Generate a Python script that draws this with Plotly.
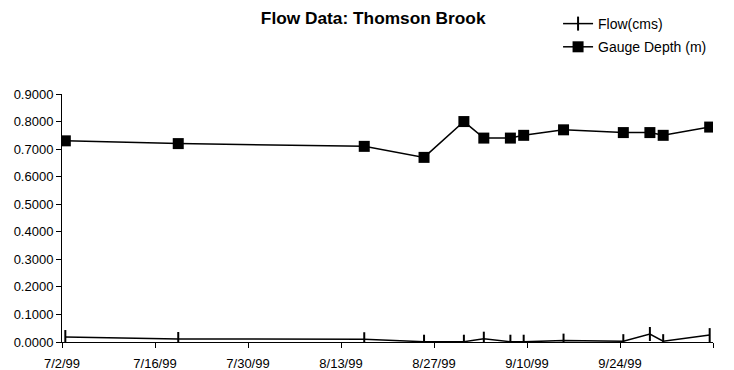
import pandas as pd
import plotly.graph_objects as go

# ---- data ----
sample_dates = ["1999-07-02", "1999-07-19", "1999-08-16", "1999-08-25", "1999-08-31",
                "1999-09-03", "1999-09-07", "1999-09-09", "1999-09-15", "1999-09-24",
                "1999-09-28", "1999-09-30", "1999-10-07"]
flow_cms = [0.018, 0.011, 0.010, 0.001, 0.001, 0.012, 0.001, 0.001, 0.005, 0.003,
            0.029, 0.003, 0.025]
gauge_depth_m = [0.73, 0.72, 0.71, 0.67, 0.80, 0.74, 0.74, 0.75, 0.77, 0.76,
                 0.76, 0.75, 0.78]
x_tick_dates = ["1999-07-02", "1999-07-16", "1999-07-30", "1999-08-13", "1999-08-27",
                "1999-09-10", "1999-09-24", "1999-10-08"]
x_tick_labels = ["7/2/99", "7/16/99", "7/30/99", "8/13/99", "8/27/99",
                 "9/10/99", "9/24/99", ""]
y_tick_vals = [0.0, 0.1, 0.2, 0.3, 0.4, 0.5, 0.6, 0.7, 0.8, 0.9]

# Excel date axis centres each point in its day
x = pd.to_datetime(sample_dates) + pd.Timedelta(hours=12)

FONT = "Liberation Sans, Arial, sans-serif"

# page body adds an 8px offset; figure sized to fit the 734x370 window
W, H = 726, 362

fig = go.Figure()
fig.add_trace(go.Scatter(
    x=x, y=flow_cms, name="Flow(cms)", mode="lines+markers",
    line=dict(color="black", width=1.5),
    marker=dict(symbol="line-ns", size=10, color="black",
                line=dict(width=2, color="black")),
    legendgroup="a",
))
fig.add_trace(go.Scatter(
    x=x, y=gauge_depth_m, name="Gauge Depth (m)", mode="lines+markers",
    line=dict(color="black", width=1.5),
    marker=dict(symbol="square", size=11, color="black"),
    legendgroup="b",
))

fig.update_layout(
    width=W, height=H,
    margin=dict(l=54, r=21, t=86, b=28),
    paper_bgcolor="white", plot_bgcolor="white",
    font=dict(family=FONT, color="black", size=12),
    title=dict(text="<b>Flow Data: Thomson Brook</b>", x=0.503, xref="container",
               xanchor="center", y=1 - 10 / H, yref="container", yanchor="middle",
               font=dict(size=17.3, family=FONT, color="black")),
    legend=dict(x=0.762, xanchor="left", y=1, yanchor="top",
                yref="container",
                font=dict(size=14, family=FONT, color="black"),
                bgcolor="rgba(0,0,0,0)", tracegroupgap=2, traceorder="grouped"),
    showlegend=True,
)

fig.update_xaxes(
    type="date",
    range=[pd.Timestamp("1999-07-02"), pd.Timestamp("1999-10-08")],
    tickvals=pd.to_datetime(x_tick_dates), ticktext=x_tick_labels,
    ticks="outside", ticklen=5, tickwidth=1, tickcolor="black",
    showline=True, linecolor="black", linewidth=1, showgrid=False, zeroline=False,
    tickfont=dict(size=13, family=FONT, color="black"),
    automargin=False, ticklabelstandoff=4,
)
fig.update_yaxes(
    range=[0, 0.9], tickvals=y_tick_vals, tickformat=".4f",
    ticks="outside", ticklen=5, tickwidth=1, tickcolor="black",
    showline=True, linecolor="black", linewidth=1, showgrid=False, zeroline=False,
    tickfont=dict(size=13, family=FONT, color="black"),
    automargin=False,
)

fig.write_html("out.html")
